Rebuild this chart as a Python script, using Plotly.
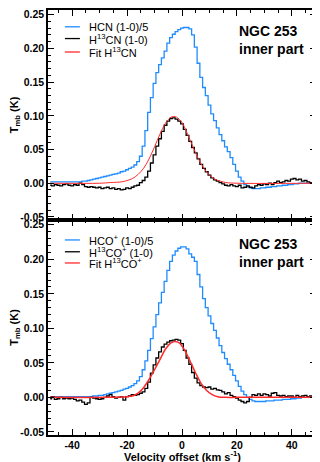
import plotly.graph_objects as go
from plotly.subplots import make_subplots

# channel velocities (km/s)
velocity = list(range(-48, 49))

# HCN (1-0)/5, top panel
hcn_div5 = [
    0.002, 0.002, 0.002, 0.002, 0.002, 0.002, 0.002, 0.002, 0.002, 0.002,   # -48..-39
    0.002, 0.002, 0.003, 0.003, 0.004, 0.005, 0.006, 0.007, 0.008, 0.009,   # -38..-29
    0.010, 0.011, 0.012, 0.013, 0.014, 0.015, 0.017, 0.018, 0.020, 0.022,   # -28..-19
    0.024, 0.027, 0.032, 0.040, 0.055, 0.078, 0.105, 0.127, 0.148, 0.164,   # -18..-9
    0.176, 0.186, 0.196, 0.208, 0.216, 0.221, 0.225, 0.228, 0.230, 0.231,   # -8..1
    0.231, 0.229, 0.220, 0.202, 0.178, 0.157, 0.142, 0.130, 0.116, 0.103,   # 2..11
    0.093, 0.082, 0.072, 0.063, 0.054, 0.047, 0.038, 0.028, 0.018, 0.009,   # 12..21
    0.003, -0.002, -0.005, -0.007, -0.008, -0.008, -0.008, -0.007, -0.007, -0.006,  # 22..31
    -0.006, -0.005, -0.005, -0.004, -0.004, -0.003, -0.003, -0.002, -0.002, -0.001,  # 32..41
    -0.001, 0.000, 0.000, 0.000, 0.000, 0.000, 0.000,                        # 42..48
]

# H13CN (1-0)
h13cn = [
    -0.003, -0.004, -0.002, -0.003, -0.004, -0.002, -0.001, -0.003, -0.004, -0.002,
    -0.003, 0.000, -0.002, -0.005, -0.006, -0.005, -0.006, -0.007, -0.006, -0.008,
    -0.007, -0.006, -0.008, -0.007, -0.009, -0.008, -0.010, -0.009, -0.007, -0.008,
    -0.006, -0.004, -0.003, 0.001, 0.004, 0.009, 0.018, 0.030, 0.042, 0.055,
    0.066, 0.077, 0.086, 0.092, 0.096, 0.097, 0.095, 0.092, 0.088, 0.080,
    0.071, 0.062, 0.053, 0.045, 0.036, 0.028, 0.022, 0.017, 0.012, 0.008,
    0.005, 0.003, 0.001, -0.001, -0.003, -0.004, -0.002, -0.004, -0.005, -0.003,
    -0.007, -0.006, -0.004, -0.006, -0.007, -0.004, -0.002, -0.003, -0.001, -0.002,
    0.000, -0.002, 0.001, 0.003, 0.001, 0.002, 0.004, 0.003, 0.006, 0.007,
    0.005, 0.006, 0.003, 0.004, 0.002, 0.001, 0.000,
]

# Gaussian fit of H13CN, read at a few velocities
fit_v_h13cn = [-48, -30, -26, -22, -20, -18, -16, -14, -12, -10, -8, -6, -4, -3,
               -2, 0, 2, 4, 6, 8, 10, 12, 14, 16, 20, 48]
fit_h13cn = [0.0, 0.0, 0.001, 0.002, 0.004, 0.007, 0.013, 0.022, 0.036, 0.054, 0.073,
             0.089, 0.098, 0.099, 0.098, 0.090, 0.073, 0.054, 0.036, 0.022, 0.012,
             0.006, 0.003, 0.001, 0.0, 0.0]

# HCO+ (1-0)/5, bottom panel
hcop_div5 = [
    0.001, 0.001, 0.001, 0.001, 0.001, 0.001, 0.001, 0.001, 0.001, 0.001,
    0.001, 0.001, 0.001, 0.001, 0.001, 0.001, 0.002, 0.002, 0.003, 0.003,
    0.004, 0.005, 0.006, 0.007, 0.008, 0.009, 0.010, 0.012, 0.013, 0.015,
    0.017, 0.020, 0.024, 0.030, 0.040, 0.053, 0.068, 0.085, 0.102, 0.120,
    0.137, 0.152, 0.168, 0.184, 0.197, 0.206, 0.212, 0.216, 0.218, 0.218,
    0.215, 0.208, 0.203, 0.197, 0.178, 0.160, 0.143, 0.130, 0.118, 0.107,
    0.097, 0.086, 0.075, 0.065, 0.056, 0.048, 0.040, 0.032, 0.024, 0.016,
    0.009, 0.004, 0.000, -0.003, -0.005, -0.006, -0.006, -0.006, -0.006, -0.005,
    -0.005, -0.005, -0.004, -0.004, -0.004, -0.003, -0.003, -0.003, -0.002, -0.002,
    -0.001, -0.001, 0.000, 0.000, 0.000, 0.000, 0.000,
]

# H13CO+ (1-0)
h13cop = [
    -0.002, 0.001, -0.003, -0.002, 0.000, -0.002, -0.001, -0.002, -0.001, -0.003,
    -0.005, -0.004, -0.007, -0.010, -0.008, 0.000, -0.001, -0.002, -0.003, -0.002,
    0.000, 0.002, 0.004, 0.001, -0.001, 0.000, 0.001, -0.004, 0.001, 0.002,
    0.004, 0.003, 0.004, 0.006, 0.008, 0.013, 0.022, 0.035, 0.047, 0.057,
    0.066, 0.073, 0.077, 0.080, 0.082, 0.083, 0.084, 0.083, 0.078, 0.068,
    0.057, 0.048, 0.036, 0.028, 0.021, 0.017, 0.015, 0.014, 0.015, 0.012,
    0.013, 0.011, 0.010, 0.008, 0.005, 0.007, 0.003, 0.001, -0.001, -0.004,
    -0.006, -0.008, -0.006, 0.000, 0.004, 0.003, 0.005, 0.003, 0.005, 0.004,
    0.002, 0.006, 0.007, 0.003, 0.002, 0.003, 0.001, 0.002, 0.002, 0.000,
    0.003, 0.001, 0.002, 0.003, 0.001, 0.002, 0.001,
]

fit_v_h13cop = [-48, -26, -22, -20, -18, -16, -14, -12, -10, -8, -6, -4, -2.5, -1,
                1, 3, 5, 7, 9, 11, 13, 16, 20, 48]
fit_h13cop = [0.0, 0.0, 0.0005, 0.001, 0.002, 0.006, 0.014, 0.026, 0.040, 0.055, 0.070,
              0.079, 0.081, 0.079, 0.068, 0.052, 0.035, 0.020, 0.010, 0.004, 0.001,
              0.0, 0.0, 0.0]

x_ticks = [-40, -20, 0, 20, 40]
x_labels = ["-40", "-20", "0", "20", "40"]
y_ticks = [-0.05, 0.0, 0.05, 0.10, 0.15, 0.20, 0.25]
y_labels = ["-0.05", "0.00", "0.05", "0.10", "0.15", "0.20", "0.25"]

legend_top = ["HCN (1-0)/5", "H<sup>13</sup>CN (1-0)", "Fit H<sup>13</sup>CN"]
legend_bottom = ["HCO<sup>+</sup> (1-0)/5", "H<sup>13</sup>CO<sup>+</sup> (1-0)",
                 "Fit H<sup>13</sup>CO<sup>+</sup>"]

BLUE = "#1e8cff"
RED = "#ff2a2a"
FONT = "Liberation Sans"

fig = make_subplots(rows=2, cols=1, shared_xaxes=True, vertical_spacing=0,
                    row_heights=[0.494, 0.506])

# top panel
fig.add_trace(go.Scatter(x=velocity, y=hcn_div5, mode="lines", line_shape="hvh",
                         line=dict(color=BLUE, width=1.3)), row=1, col=1)
fig.add_trace(go.Scatter(x=velocity, y=h13cn, mode="lines", line_shape="hvh",
                         line=dict(color="black", width=1.3)), row=1, col=1)
fig.add_trace(go.Scatter(x=fit_v_h13cn, y=fit_h13cn, mode="lines", line_shape="spline",
                         line=dict(color=RED, width=1)), row=1, col=1)

# bottom panel
fig.add_trace(go.Scatter(x=velocity, y=hcop_div5, mode="lines", line_shape="hvh",
                         line=dict(color=BLUE, width=1.3)), row=2, col=1)
fig.add_trace(go.Scatter(x=velocity, y=h13cop, mode="lines", line_shape="hvh",
                         line=dict(color="black", width=1.3)), row=2, col=1)
fig.add_trace(go.Scatter(x=fit_v_h13cop, y=fit_h13cop, mode="lines", line_shape="spline",
                         line=dict(color=RED, width=1.5)), row=2, col=1)

tick_font = dict(family=FONT, size=10.5, color="black", weight="bold")
axis_common = dict(showline=True, linecolor="black", linewidth=1.5, mirror="ticks",
                   ticks="inside", ticklen=6, tickwidth=1.2, tickcolor="black",
                   showgrid=False, zeroline=False, tickfont=tick_font, automargin=False)

for r in (1, 2):
    fig.update_xaxes(range=[-48.8, 48.8], tickmode="array", tickvals=x_ticks,
                     ticktext=x_labels,
                     minor=dict(ticks="inside", ticklen=3, tickmode="linear", tick0=0,
                                dtick=5, tickcolor="black", showgrid=False),
                     row=r, col=1, **axis_common)
    fig.update_yaxes(range=[-0.0545, 0.257], tickmode="array", tickvals=y_ticks,
                     ticktext=y_labels,
                     minor=dict(ticks="inside", ticklen=3, tickmode="linear", tick0=0,
                                dtick=0.01, tickcolor="black", showgrid=False),
                     title=dict(text="T<sub>mb</sub> (K)", standoff=2,
                                font=dict(family=FONT, size=11, color="black", weight="bold")),
                     row=r, col=1, **axis_common)

# x title as an annotation so it sits right under the tick labels
fig.add_annotation(xref="x2 domain", yref="paper", x=0.5, y=0, yshift=-21,
                   text="Velocity offset (km s<sup>-1</sup>)", showarrow=False,
                   xanchor="center", yanchor="middle",
                   font=dict(family=FONT, size=11, color="black", weight="bold"))

# hand-made legends (short line samples, as in the original)
colors = [BLUE, "black", RED]
legend_rows = [(legend_top, "x domain", "y domain", [0.92, 0.864, 0.80]),
               (legend_bottom, "x2 domain", "y2 domain", [0.907, 0.852, 0.80])]
for labels, xr, yr, ys in legend_rows:
    for label, c, yy in zip(labels, colors, ys):
        fig.add_shape(type="line", xref=xr, yref=yr, x0=0.063, x1=0.119, y0=yy, y1=yy,
                      line=dict(color=c, width=1.3))
        fig.add_annotation(xref=xr, yref=yr, x=0.145, y=yy, text=label, showarrow=False,
                           xanchor="left", yanchor="middle",
                           font=dict(family=FONT, size=11, color="black"))

for xr, yr, yy in (("x domain", "y domain", 0.857), ("x2 domain", "y2 domain", 0.848)):
    fig.add_annotation(xref=xr, yref=yr, x=0.705, y=yy, text="NGC 253<br>inner part",
                       showarrow=False, xanchor="left", yanchor="middle", align="left",
                       font=dict(family=FONT, size=14, color="black", weight="bold"))

# the page puts the figure 8px in from the top-left corner, margins allow for that
fig.update_layout(width=320, height=462, showlegend=False,
                  margin=dict(l=40, r=12, t=2, b=35),
                  paper_bgcolor="white", plot_bgcolor="white")

fig.write_html("out.html")
